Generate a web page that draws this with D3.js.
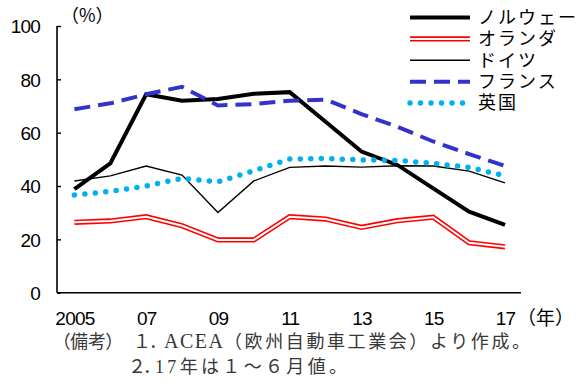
<!DOCTYPE html>
<html>
<head>
<meta charset="utf-8">
<script src="https://cdn.jsdelivr.net/npm/d3@7"></script>
<style>
  html, body { margin: 0; padding: 0; background: #fff; }
  svg { display: block; }
  .tick text { font-family: "Liberation Sans", Arial, sans-serif; }
  .palt { font-feature-settings: "palt"; }
</style>
</head>
<body>
<svg id="chart" width="579" height="382"></svg>
<script>
// Years (x categories) and their printed labels
const years = ["2005","06","07","08","09","10","11","12","13","14","15","16","17"];
const yearLabels = {"2005":"2005","07":"07","09":"09","11":"11","13":"13","15":"15","17":"17"};
const yTicks = [0, 20, 40, 60, 80, 100];

// Shares by country (%)
const norway      = [38.8, 48.5, 74.4, 72.0, 72.6, 74.6, 75.2, 64.1, 52.9, 47.9, 39.1, 30.4, 25.4];
const netherlands = [26.4, 26.9, 28.5, 25.1, 19.8, 19.8, 28.5, 27.6, 24.5, 27.0, 28.3, 18.7, 17.2];
const germany     = [41.9, 43.8, 47.5, 44.1, 30.1, 41.9, 47.0, 47.5, 47.1, 47.6, 47.5, 45.6, 41.2];
const france      = [68.8, 71.0, 74.4, 77.2, 70.2, 70.7, 72.0, 72.4, 67.0, 62.2, 56.7, 52.0, 47.5];
const uk          = [36.6, 38.0, 40.0, 42.9, 41.6, 45.7, 50.1, 50.3, 49.8, 49.6, 48.5, 47.0, 43.8];

const seriesNames = ["ノルウェー", "オランダ", "ドイツ", "フランス", "英国"];

const series = [
  { name: seriesNames[0], values: norway,      style: "thick" },
  { name: seriesNames[1], values: netherlands, style: "double" },
  { name: seriesNames[2], values: germany,     style: "thin" },
  { name: seriesNames[3], values: france,      style: "dash" },
  { name: seriesNames[4], values: uk,          style: "dot" }
];

const svg = d3.select("#chart");
const plot = { left: 57, right: 521, top: 26, bottom: 292.7 };

const x = d3.scalePoint().domain(years).range([74.4, 505]);
const y = d3.scaleLinear().domain([0, 100]).range([plot.bottom, plot.top]);

// Stroke styles per series
function styleLine(sel, style, layer) {
  sel.attr("fill", "none").attr("stroke-linejoin", "miter");
  if (style === "thick") {
    sel.attr("stroke", "#000").attr("stroke-width", 4);
  } else if (style === "double") {
    if (layer === 0) sel.attr("stroke", "#ff0000").attr("stroke-width", 5.2);
    else sel.attr("stroke", "#fff").attr("stroke-width", 2);
  } else if (style === "thin") {
    sel.attr("stroke", "#000").attr("stroke-width", 1.4);
  } else if (style === "dash") {
    sel.attr("stroke", "#3333cc").attr("stroke-width", 4).attr("stroke-dasharray", "16,8");
  } else if (style === "dot") {
    sel.attr("stroke", "#00b0f0").attr("stroke-width", 5.5)
       .attr("stroke-linecap", "round").attr("stroke-dasharray", "0,10.5");
  }
}

// Y axis with short inward ticks
const yAxis = d3.axisLeft(y).tickValues(yTicks).tickSize(-4).tickPadding(0);
const gy = svg.append("g").attr("transform", `translate(${plot.left},0)`).call(yAxis);
gy.select(".domain").attr("stroke", "#000").attr("stroke-width", 1.6)
  .attr("d", `M0,${plot.top}V${plot.bottom}`);
gy.selectAll(".tick line").attr("stroke", "#000").attr("stroke-width", 1.4);
gy.selectAll(".tick text")
  .attr("x", -17).attr("dy", "0.36em")
  .attr("fill", "#000").attr("font-size", 19).attr("letter-spacing", -0.8)
  .attr("text-anchor", "end");

// X axis: labels only, baseline drawn across the full plot width
const xAxis = d3.axisBottom(x).tickSize(0).tickPadding(0)
  .tickFormat(d => yearLabels[d] || "");
const gx = svg.append("g").attr("transform", `translate(0,${plot.bottom})`).call(xAxis);
gx.select(".domain").remove();
gx.selectAll(".tick text")
  .attr("y", 32).attr("dy", 0)
  .attr("fill", "#000").attr("font-size", 19).attr("letter-spacing", -0.8);
svg.append("line")
  .attr("x1", plot.left).attr("x2", plot.right)
  .attr("y1", plot.bottom).attr("y2", plot.bottom)
  .attr("stroke", "#000").attr("stroke-width", 1.6);

// Unit labels
svg.append("text").attr("x", 61).attr("y", 22)
  .attr("font-family", "'Noto Sans CJK JP', sans-serif").attr("font-size", 18)
  .text("（%）");
svg.append("text").attr("x", 517).attr("y", 325)
  .attr("font-family", "'Noto Sans CJK JP', sans-serif").attr("font-size", 19)
  .text("（年）");

// Series lines
const line = d3.line().x((d, i) => x(years[i])).y(d => y(d));
series.forEach(s => {
  if (s.style === "double") {
    styleLine(svg.append("path").attr("d", line(s.values)), s.style, 0);
    styleLine(svg.append("path").attr("d", line(s.values)), s.style, 1);
  } else {
    styleLine(svg.append("path").attr("d", line(s.values)), s.style, 0);
  }
});

// Legend
const legend = svg.append("g");
const legendY = d3.scalePoint().domain(seriesNames).range([17.5, 103]);
series.forEach(s => {
  const ly = legendY(s.name);
  const seg = `M410,${ly}H470`;
  if (s.style === "double") {
    styleLine(legend.append("path").attr("d", seg), s.style, 0);
    styleLine(legend.append("path").attr("d", seg), s.style, 1);
  } else {
    styleLine(legend.append("path").attr("d", seg), s.style, 0);
  }
  legend.append("text").attr("x", 478).attr("y", ly).attr("dy", "0.36em")
    .attr("font-family", "'Noto Sans CJK JP', sans-serif").attr("font-size", 18)
    .attr("letter-spacing", 2)
    .text(s.name);
});

// Notes below the chart, set piece by piece
const cjk = "'Noto Sans CJK JP', sans-serif";
const noteFont = "'Liberation Serif', 'Noto Sans CJK JP', serif";
const notes = svg.append("g").attr("font-family", noteFont).attr("font-size", 18).attr("fill", "#383838");
notes.append("text").attr("class", "palt").attr("x", 61).attr("y", 348)
  .attr("font-family", cjk).text("（備考）");
notes.append("text").attr("x", 133).attr("y", 348).attr("font-family", cjk).text("１");
notes.append("text").attr("x", 149).attr("y", 348).attr("font-family", cjk).text("．");
notes.append("text").attr("x", 164).attr("y", 348).attr("font-size", 20)
  .attr("textLength", 59).attr("lengthAdjust", "spacing").text("ACEA");
notes.append("text").attr("x", 224).attr("y", 348)
  .attr("textLength", 306).attr("lengthAdjust", "spacing")
  .text("（欧州自動車工業会）より作成。");
notes.append("text").attr("x", 128).attr("y", 373).attr("font-family", cjk).text("２");
notes.append("text").attr("x", 143).attr("y", 373).attr("font-family", cjk).text("．");
notes.append("text").attr("x", 155).attr("y", 373)
  .attr("textLength", 192).attr("lengthAdjust", "spacing")
  .text("17年は１～６月値。");
</script>
</body>
</html>
